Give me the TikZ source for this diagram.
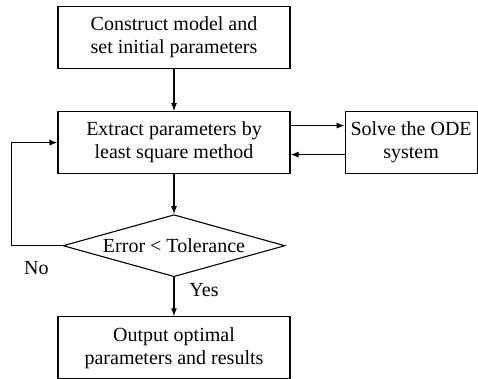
\documentclass[tikz,border=0pt]{standalone}
\usepackage{fontspec}
\setmainfont{Liberation Serif}
\usetikzlibrary{positioning, shapes.geometric, arrows.meta}

\begin{document}
\begin{tikzpicture}[line width=1.1pt, >={Latex[length=8pt,width=6pt]},
  font=\fontsize{20}{23}\selectfont,
  box/.style={rectangle, draw, align=center, minimum width=232pt, minimum height=62pt, inner sep=0pt},
  smallbox/.style={box, minimum width=132pt},
  decision/.style={diamond, draw, aspect=3.6, minimum width=222pt, minimum height=62pt, inner sep=0pt}]
  \useasboundingbox (0,0) rectangle (478pt,378pt);

  \node (model) [box] at (174pt,340.5pt) {Construct model and\\set initial parameters};
  \node (extract) [box, below=42pt of model] {Extract parameters by\\least square method};
  \node (solve) [smallbox, right=54pt of extract] {Solve the ODE\\system};
  \node (check) [decision, below=40pt of extract] {Error < Tolerance};
  \node (output) [box, below=39pt of check] {Output optimal\\parameters and results};

  \coordinate (corner) at ([xshift=-51pt]check.west);

  \path[->] (model) edge (extract);
  \path[->] (extract) edge (check);
  \path[->] (check) edge (output);
  \path[->] ([yshift=17pt]extract.east) edge ([yshift=17pt]extract.east -| solve.west);
  \path[->] ([yshift=-12pt]solve.west) edge ([yshift=-12pt]solve.west -| extract.east);
  \draw[->] (check.west) -- (corner) |- (extract.west);

  \node at ([xshift=-26pt,yshift=-22pt]check.west) {No};
  \node at ([xshift=30pt,yshift=-13pt]check.south) {Yes};
\end{tikzpicture}
\end{document}
